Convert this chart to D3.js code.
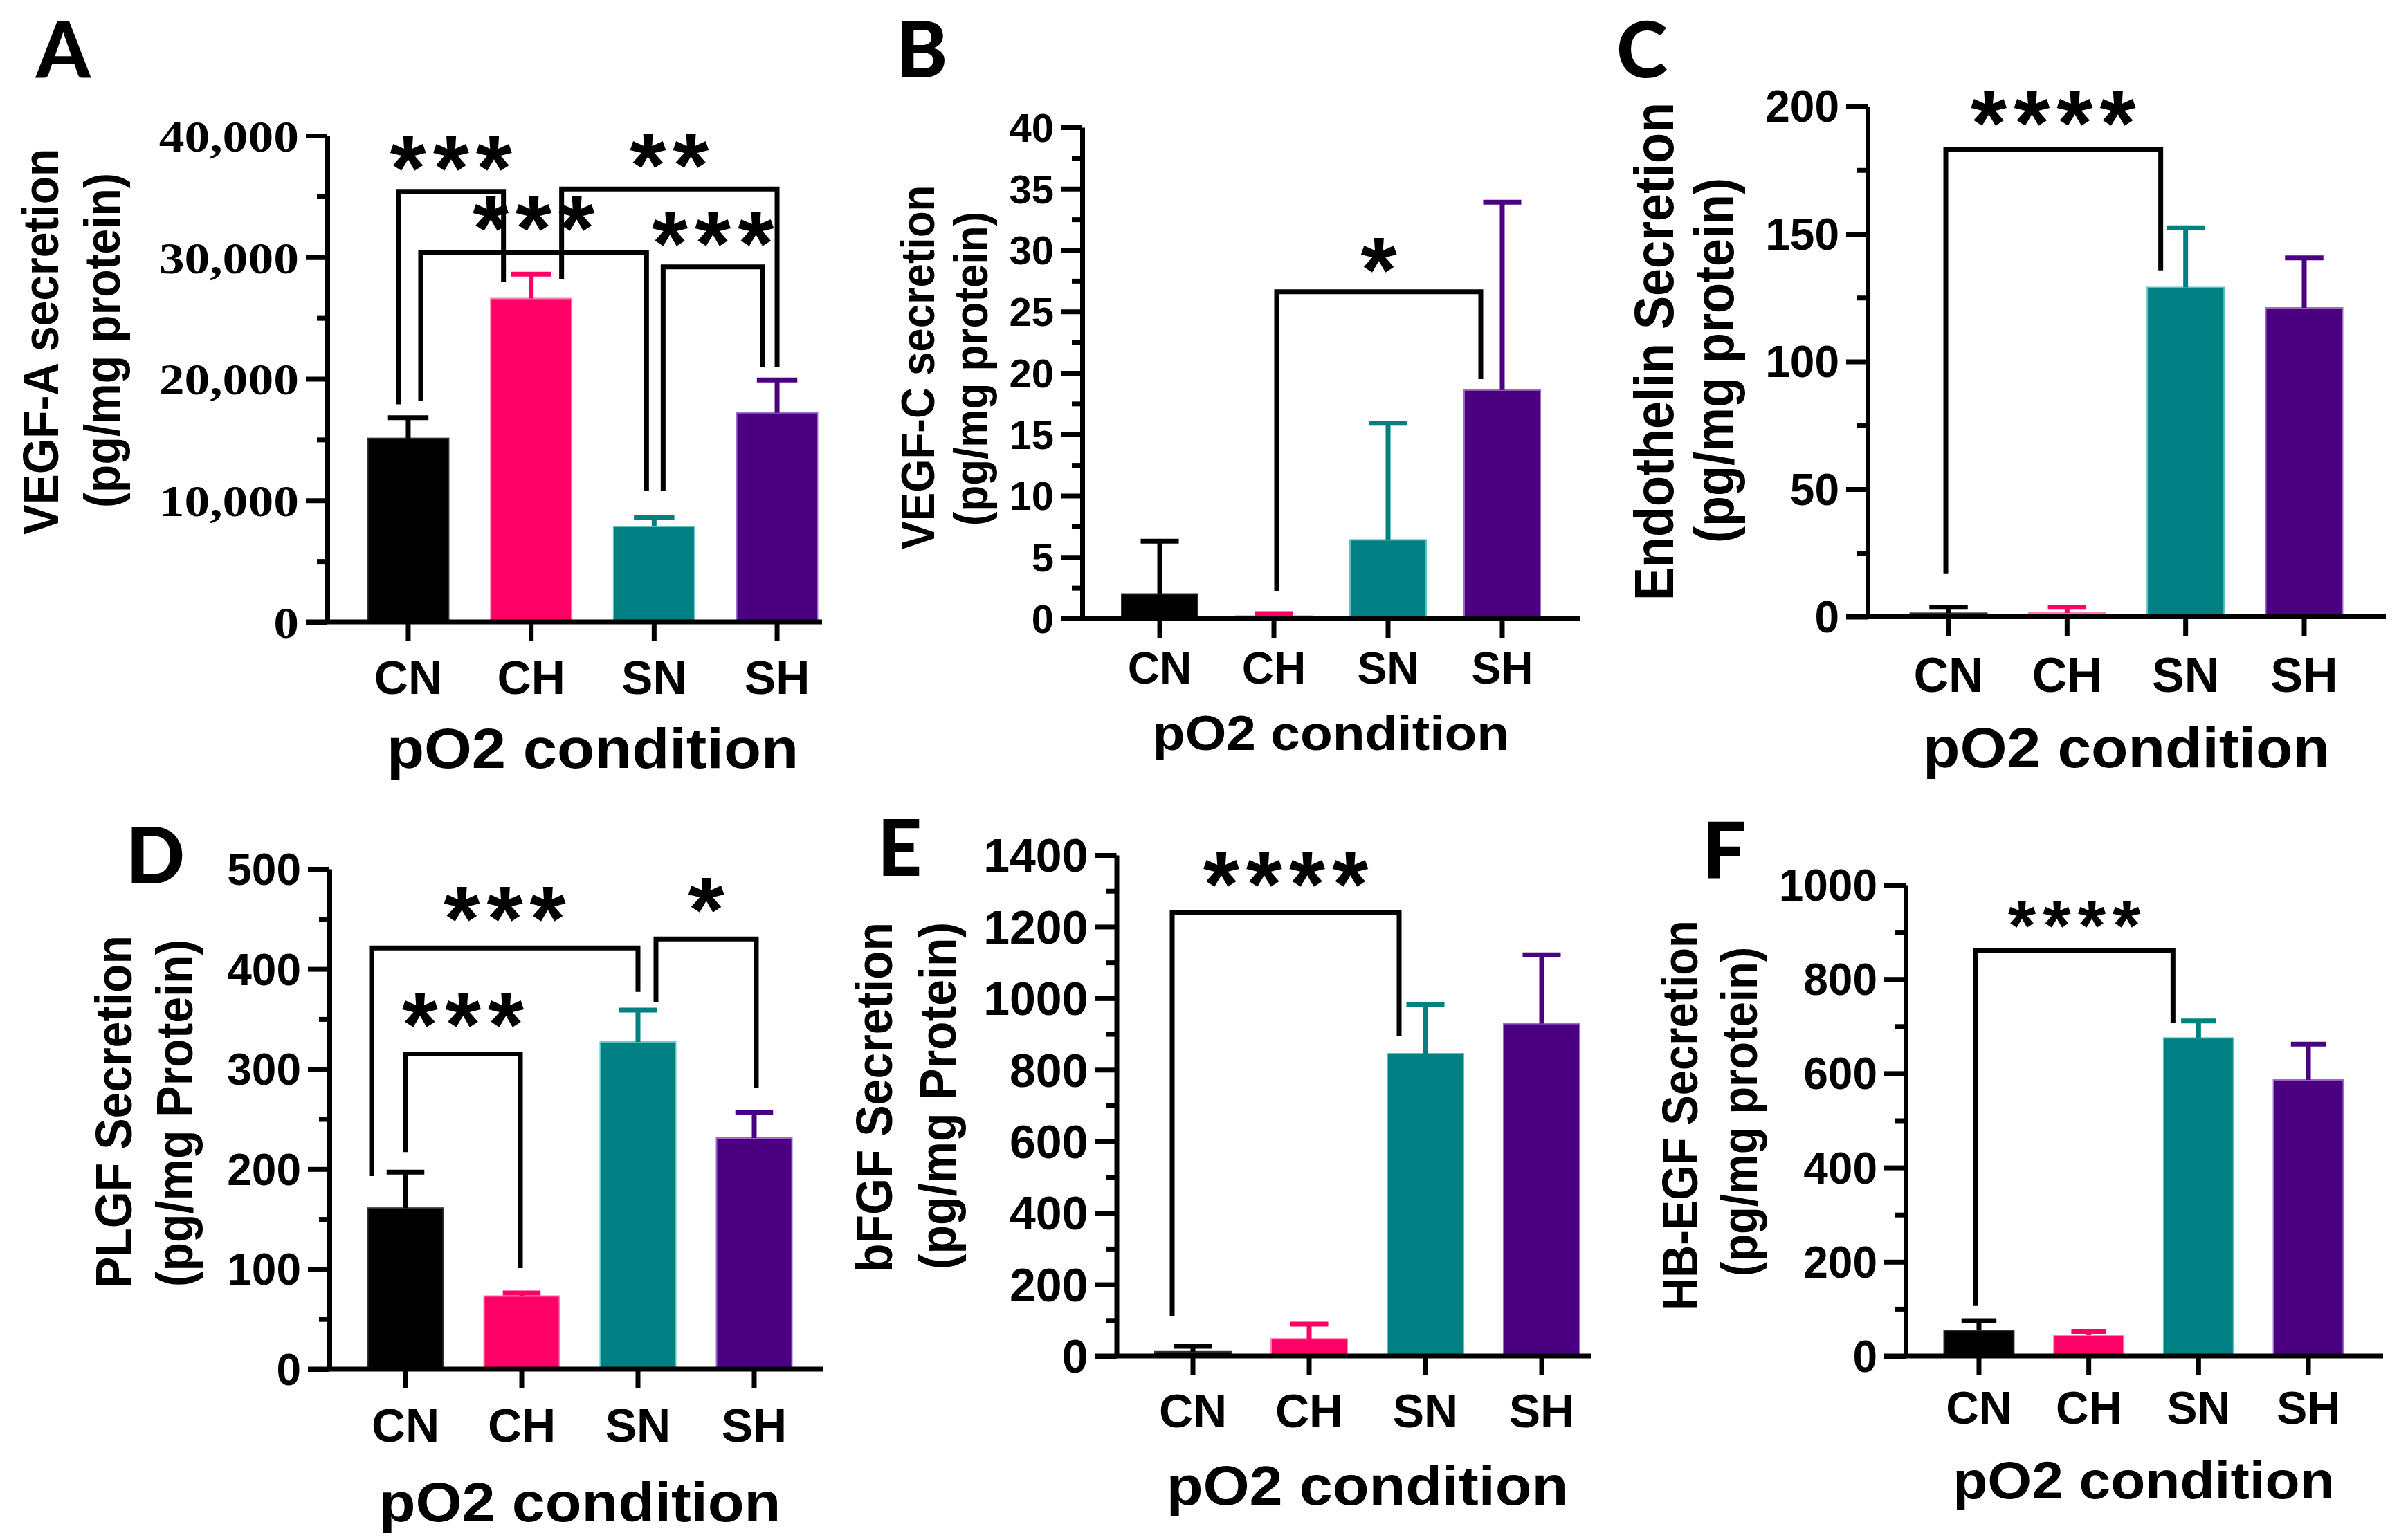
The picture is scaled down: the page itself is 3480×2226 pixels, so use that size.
<!DOCTYPE html>
<html>
<head>
<meta charset="utf-8">
<script src="https://cdn.jsdelivr.net/npm/d3@7"></script>
<style>
  body { margin: 0; background: #fff; }
  svg { display: block; }
</style>
</head>
<body>
<svg id="fig" width="3480" height="2226"></svg>
<script>
// Groups and colours shared by all six panels
const groups = ["CN", "CH", "SN", "SH"];
const groupColors = ["#000000", "#ff0066", "#008080", "#4b0082"];
const groupEdges = ["#333333", "#ff7fb0", "#5cc4c4", "#9a6cc8"];

// Mean + upper error (SD) per group
const vegfAMean = [15100, 26600, 7850, 17200];
const vegfAErr = [1700, 2000, 750, 2700];
const vegfCMean = [2.0, 0.2, 6.4, 18.6];
const vegfCErr = [4.3, 0.2, 9.5, 15.3];
const endoMean = [1.4, 1.5, 129, 121];
const endoErr = [2.3, 2.2, 23.4, 19.6];
const plgfMean = [161, 73, 327, 231];
const plgfErr = [36, 3, 32, 26];
const bfgfMean = [12, 48, 845, 929];
const bfgfErr = [15, 41, 138, 192];
const hbegfMean = [54, 44, 675, 586];
const hbegfErr = [21, 8, 36, 76];

// Significance brackets: [from, to, top value, leg end at "from", leg end at "to", label]
const vegfABrackets = [
  [0, 1, 35400, 17900, 28000, "***"],
  [0, 2, 30400, 18150, 10750, "***"],
  [1, 3, 35600, 28200, 21000, "**"],
  [2, 3, 29200, 10750, 21000, "***"]
];
const vegfCBrackets = [[1, 3, 26.6, 2.25, 19.5, "*"]];
const endoBrackets = [[0, 2, 183, 17, 135.7, "****"]];
const plgfBrackets = [
  [0, 2, 421, 193, 377, "***"],
  [0, 1, 315, 217, 101, "***"],
  [2, 3, 430, 367, 281, "*"]
];
const bfgfBrackets = [[0, 2, 1240, 112, 895, "****"]];
const hbegfBrackets = [[0, 2, 860, 106, 707, "****"]];

const sans = "'Liberation Sans', Arial, sans-serif";
const serif = "'Liberation Serif', 'Times New Roman', serif";

const panels = [
  {
    letter: "A", letterPos: [52, 112],
    mean: vegfAMean, err: vegfAErr, brackets: vegfABrackets,
    yMax: 40000, major: 10000, minor: 5000, fmt: d3.format(","), tickFont: serif, tickSize: 64, tickStretch: 1.15,
    axisX: 473, yTop: 196, yZero: 899, xEnd: 1188, band: [531.5, 1181.5], pad: 0.342,
    titles: [["VEGF-A secretion", 59, 494], ["(pg/mg protein)", 148, 492]], titleSize: 66,
    catSize: 68, catDy: 80, xTitleY: 1082, xTitleSize: 82,
    legs: [[-14, -40], [18, -11], [44, 0], [13, -21]], starSize: 134, starGap: 62
  },
  {
    letter: "B", letterPos: [1295, 112],
    mean: vegfCMean, err: vegfCErr, brackets: vegfCBrackets,
    yMax: 40, major: 5, minor: 2.5, fmt: d3.format("d"), tickFont: sans, tickSize: 58, tickStretch: 1,
    axisX: 1564, yTop: 184, yZero: 894, xEnd: 2283, band: [1621, 2226], pad: 0.333,
    titles: [["VEGF-C secretion", 1326, 531], ["(pg/mg protein)", 1403, 533]], titleSize: 62,
    catSize: 64, catDy: 72, xTitleY: 1059, xTitleSize: 71,
    legs: [[4, -31]], starSize: 134, starGap: 60
  },
  {
    letter: "C", letterPos: [2336, 112],
    mean: endoMean, err: endoErr, brackets: endoBrackets,
    yMax: 200, major: 50, minor: 25, fmt: d3.format("d"), tickFont: sans, tickSize: 64, tickStretch: 1,
    axisX: 2699, yTop: 153.5, yZero: 891.5, xEnd: 3448, band: [2760.5, 3385.5], pad: 0.352,
    titles: [["Endothelin Secretion", 2390, 508], ["(pg/mg protein)", 2477, 521]], titleSize: 72,
    catSize: 70, catDy: 84, xTitleY: 1081, xTitleSize: 81,
    legs: [[-4, -36]], starSize: 134, starGap: 66
  },
  {
    letter: "D", letterPos: [182, 1277],
    mean: plgfMean, err: plgfErr, brackets: plgfBrackets,
    yMax: 500, major: 100, minor: 50, fmt: d3.format("d"), tickFont: sans, tickSize: 64, tickStretch: 1,
    axisX: 476, yTop: 1256, yZero: 1979, xEnd: 1190, band: [531.5, 1144.5], pad: 0.351,
    titles: [["PLGF Secretion", 164, 1607], ["(pg/mg Protein)", 252, 1609]], titleSize: 68,
    catSize: 68, catDy: 81, xTitleY: 2172, xTitleSize: 80,
    legs: [[-49, 0], [0, -2], [26, 3]], starSize: 134, starGap: 70
  },
  {
    letter: "E", letterPos: [1268, 1266],
    mean: bfgfMean, err: bfgfErr, brackets: bfgfBrackets,
    yMax: 1400, major: 200, minor: 100, fmt: d3.format("d"), tickFont: sans, tickSize: 68, tickStretch: 1,
    axisX: 1613.5, yTop: 1236, yZero: 1960, xEnd: 2300, band: [1669, 2283], pad: 0.345,
    titles: [["bFGF Secretion", 1263, 1586], ["(pg/mg Protein)", 1355, 1584]], titleSize: 68,
    catSize: 68, catDy: 79, xTitleY: 2148, xTitleSize: 80,
    legs: [[-30, -38]], starSize: 134, starGap: 68
  },
  {
    letter: "F", letterPos: [2460, 1270],
    mean: hbegfMean, err: hbegfErr, brackets: hbegfBrackets,
    yMax: 1000, major: 200, minor: 100, fmt: d3.format("d"), tickFont: sans, tickSize: 64, tickStretch: 1,
    axisX: 2754, yTop: 1279, yZero: 1960, xEnd: 3444, band: [2809.5, 3386.5], pad: 0.364,
    titles: [["HB-EGF Secretion", 2428, 1612], ["(pg/mg protein)", 2514, 1607]], titleSize: 65,
    catSize: 66, catDy: 75, xTitleY: 2140, xTitleSize: 76,
    legs: [[-5, -37]], starSize: 104, starGap: 58
  }
];

const svg = d3.select("#fig");
svg.append("rect").attr("width", 3480).attr("height", 2226).attr("fill", "#fff");

const lineW = 7;
const majorLen = 31;
const minorLen = 15;
const textStretch = 1.08;   // the figure's type is slightly wider than plain Arial

panels.forEach(p => drawPanel(p));

function drawPanel(p) {
  const g = svg.append("g");
  const y = d3.scaleLinear().domain([0, p.yMax]).range([p.yZero, p.yTop]);
  const x = d3.scaleBand().domain(groups).range(p.band).paddingInner(p.pad).paddingOuter(0);
  const bw = x.bandwidth();
  const cx = i => x(groups[i]) + bw / 2;

  // panel letter
  g.append("text")
    .attr("x", p.letterPos[0]).attr("y", p.letterPos[1])
    .attr("font-family", "Lato, 'Liberation Sans', sans-serif")
    .attr("font-weight", 900).attr("font-size", 112)
    .text(p.letter);

  // bars
  const rows = groups.map((k, i) => ({ k, i, m: p.mean[i], e: p.err[i] }));
  g.selectAll(".bar").data(rows).enter().append("rect")
    .attr("x", d => x(d.k))
    .attr("y", d => y(d.m))
    .attr("width", bw)
    .attr("height", d => y(0) - y(d.m))
    .attr("fill", d => groupColors[d.i])
    .attr("stroke", d => groupEdges[d.i])
    .attr("stroke-width", 2);

  // upper error bars
  const eb = g.selectAll(".err").data(rows).enter().append("g")
    .attr("stroke", d => groupColors[d.i]).attr("stroke-width", lineW);
  eb.append("line")
    .attr("x1", d => cx(d.i)).attr("x2", d => cx(d.i))
    .attr("y1", d => y(d.m)).attr("y2", d => y(d.m + d.e));
  eb.append("line")
    .attr("x1", d => cx(d.i) - bw * 0.25).attr("x2", d => cx(d.i) + bw * 0.25)
    .attr("y1", d => y(d.m + d.e)).attr("y2", d => y(d.m + d.e));

  // y axis: major ticks with labels, minor ticks without
  const majorTicks = d3.range(0, p.yMax + p.major / 2, p.major);
  const minorTicks = d3.range(p.minor, p.yMax, p.major).filter(v => v % p.major !== 0);

  const yAxis = g.append("g").attr("transform", `translate(${p.axisX},0)`)
    .call(d3.axisLeft(y).tickValues(majorTicks).tickFormat(p.fmt).tickSize(majorLen).tickSizeOuter(0).tickPadding(10));
  yAxis.select(".domain").attr("stroke-width", lineW).attr("stroke", "#000");
  yAxis.selectAll(".tick line").attr("stroke-width", lineW);
  yAxis.selectAll(".tick text")
    .attr("font-family", p.tickFont).attr("font-weight", "bold")
    .attr("font-size", p.tickSize).attr("fill", "#000").attr("dy", "0.35em")
    .each(function () {
      const t = d3.select(this);
      const x0 = +t.attr("x");
      t.attr("x", 0).attr("transform", `translate(${x0},0) scale(${p.tickStretch},1)`);
    });

  const yMinor = g.append("g").attr("transform", `translate(${p.axisX},0)`)
    .call(d3.axisLeft(y).tickValues(minorTicks).tickFormat("").tickSize(minorLen).tickSizeOuter(0));
  yMinor.select(".domain").remove();
  yMinor.selectAll(".tick line").attr("stroke-width", lineW);

  // x axis
  const xAxis = g.append("g").attr("transform", `translate(0,${p.yZero})`)
    .call(d3.axisBottom(x).tickSize(28).tickSizeOuter(0).tickPadding(p.catDy - 28 - p.catSize * 0.36));
  xAxis.select(".domain").remove();
  xAxis.selectAll(".tick line").attr("stroke-width", lineW);
  xAxis.selectAll(".tick text")
    .attr("font-family", sans).attr("font-weight", "bold")
    .attr("font-size", p.catSize).attr("fill", "#000").attr("dy", "0.71em");
  g.append("line")
    .attr("x1", p.axisX - majorLen).attr("x2", p.xEnd)
    .attr("y1", p.yZero).attr("y2", p.yZero)
    .attr("stroke", "#000").attr("stroke-width", lineW);

  // axis titles
  p.titles.forEach(t => {
    g.append("text")
      .attr("transform", `translate(${t[1]},${t[2]}) scale(1.1,1) rotate(-90)`)
      .attr("text-anchor", "middle").attr("dominant-baseline", "central")
      .attr("font-family", sans).attr("font-weight", "bold")
      .attr("font-size", p.titleSize).text(t[0]);
  });
  g.append("text")
    .attr("transform", `translate(${(p.band[0] + p.band[1]) / 2},${p.xTitleY}) scale(${textStretch},1)`)
    .attr("text-anchor", "middle").attr("dominant-baseline", "central")
    .attr("font-family", sans).attr("font-weight", "bold")
    .attr("font-size", p.xTitleSize).text("pO2 condition");

  // significance brackets
  p.brackets.forEach((b, k) => {
    const xl = cx(b[0]) + p.legs[k][0];
    const xr = cx(b[1]) + p.legs[k][1];
    const yt = y(b[2]);
    g.append("path")
      .attr("d", `M${xl},${y(b[3])}V${yt}H${xr}V${y(b[4])}`)
      .attr("fill", "none").attr("stroke", "#000").attr("stroke-width", lineW);
    g.append("text")
      .attr("x", (xl + xr) / 2 + 5).attr("y", yt - p.starGap + p.starSize * 0.55)
      .attr("text-anchor", "middle")
      .attr("font-family", sans).attr("font-weight", "bold")
      .attr("font-size", p.starSize).attr("letter-spacing", 10)
      .text(b[5]);
  });
}
</script>
</body>
</html>
